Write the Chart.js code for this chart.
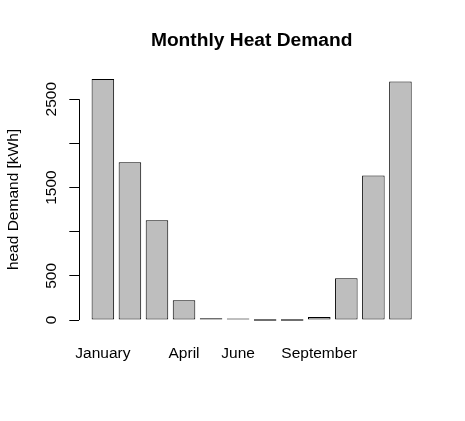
<!DOCTYPE html>
<html>
<head>
<meta charset="utf-8">
<script src="https://cdn.jsdelivr.net/npm/chart.js@4/dist/chart.umd.min.js"></script>
<style>
  html, body { margin: 0; padding: 0; background: #fff; }
  #wrap { width: 465px; height: 421px; }
</style>
</head>
<body>
<div id="wrap"><canvas id="chart" width="465" height="421"></canvas></div>
<script>
const months = ['January', 'February', 'March', 'April', 'May', 'June',
  'July', 'August', 'September', 'October', 'November', 'December'];
const heatDemand = [2730, 1785, 1130, 225, 20, 3, 0, 0, 35, 472, 1637, 2700];
const shownMonths = ['January', 'April', 'June', 'September'];
const yTicks = [0, 500, 1000, 1500, 2000, 2500];
const yTickLabels = ['0', '500', '', '1500', '', '2500'];

// R barplot geometry: width 1, space 0.2, 4% axis extension
const barX = months.map((_, i) => 0.7 + 1.2 * i);
const xMin = 0.2 - 0.04 * 14.2, xMax = 14.4 + 0.04 * 14.2;
const yTop = Math.max(...heatDemand);

const FONT = "'Liberation Sans', Arial, sans-serif";
Chart.defaults.font.family = FONT;
Chart.defaults.color = '#000';

// R draws the y axis line only between first and last tick
const axisLine = {
  id: 'axisLine',
  afterDraw(chart) {
    const { ctx, scales: { y }, chartArea } = chart;
    const x = Math.round(chartArea.left) + 0.5;
    ctx.save();
    ctx.strokeStyle = '#000';
    ctx.lineWidth = 1;
    ctx.beginPath();
    ctx.moveTo(x, y.getPixelForValue(yTicks[0]));
    ctx.lineTo(x, y.getPixelForValue(yTicks[yTicks.length - 1]));
    ctx.stroke();
    ctx.restore();
  }
};

new Chart(document.getElementById('chart'), {
  type: 'bar',
  data: {
    datasets: [{
      data: heatDemand.map((v, i) => ({ x: barX[i], y: v })),
      backgroundColor: '#bebebe',
      borderColor: '#000',
      borderWidth: 1,
      borderSkipped: false,
      minBarLength: 1.5,
      categoryPercentage: 1,
      barPercentage: 1 / 1.2,
    }]
  },
  options: {
    responsive: false,
    animation: false,
    layout: { padding: { left: 0, right: 40.5, top: 0, bottom: 0 } },
    plugins: {
      legend: { display: false },
      tooltip: { enabled: false },
      title: {
        display: true,
        fullSize: false,
        text: 'Monthly Heat Demand',
        color: '#000',
        font: { size: 19.2, weight: 'bold', family: FONT },
        padding: { top: 29.6, bottom: 16.6 }
      }
    },
    scales: {
      x: {
        type: 'linear',
        offset: false,
        min: xMin,
        max: xMax,
        grid: { display: false },
        border: { display: false },
        afterBuildTicks: s => {
          s.ticks = shownMonths.map(m => ({ value: barX[months.indexOf(m)] }));
        },
        afterFit: s => { s.height = 91.3; },
        ticks: {
          padding: 7,
          maxRotation: 0,
          autoSkip: false,
          font: { size: 15.5 },
          color: '#000',
          callback: v => months[barX.findIndex(b => Math.abs(b - v) < 1e-6)]
        }
      },
      y: {
        min: -0.04 * yTop,
        max: 1.04 * yTop,
        afterBuildTicks: s => { s.ticks = yTicks.map(v => ({ value: v })); },
        afterFit: s => { s.width = 78.8; },
        border: { display: false },
        grid: { drawOnChartArea: false, drawTicks: true, tickLength: 9.5, color: '#000', lineWidth: 1 },
        ticks: {
          minRotation: 90,
          maxRotation: 90,
          crossAlign: 'center',
          padding: 0,
          font: { size: 15.5 },
          color: '#000',
          callback: (v) => yTickLabels[yTicks.indexOf(v)]
        },
        title: {
          display: true,
          text: 'head Demand [kWh]',
          color: '#000',
          font: { size: 15.5 },
          padding: { top: 4, bottom: 0 }
        }
      }
    }
  },
  plugins: [axisLine]
});
</script>
</body>
</html>
